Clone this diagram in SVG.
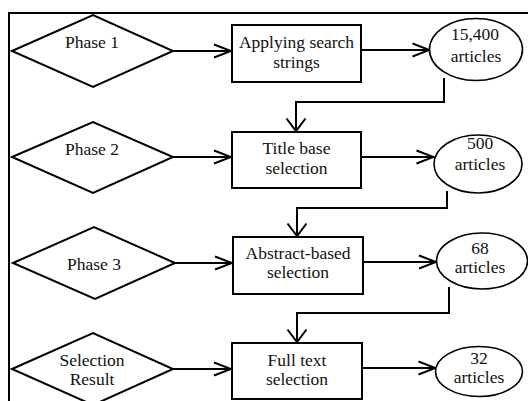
<svg xmlns="http://www.w3.org/2000/svg" width="528" height="401" viewBox="0 0 528 401">
  <style>
    .shape { fill: #fff; stroke: #000; stroke-width: 2; }
    .oval { fill: #fff; stroke: #000; stroke-width: 1.6; }
    .wire { fill: none; stroke: #000; stroke-width: 2; }
    .lbl { font-family: "Liberation Serif", "Times New Roman", "DejaVu Serif", serif; font-size: 17.5px; fill: #111; text-anchor: middle; }
  </style>
  <defs>
    <marker id="headH" markerUnits="userSpaceOnUse" viewBox="-18 -8 20 16" refX="0" refY="0" markerWidth="20" markerHeight="16" orient="auto">
      <path d="M-17,-6.5 L0,0 L-17,6.5" fill="none" stroke="#000" stroke-width="2"/>
    </marker>
    <marker id="headV" markerUnits="userSpaceOnUse" viewBox="-14 -11 16 22" refX="0" refY="0" markerWidth="16" markerHeight="22" orient="auto">
      <path d="M-12.5,-9.5 L0,0 L-12.5,9.5" fill="none" stroke="#000" stroke-width="2"/>
    </marker>
  </defs>

  <rect width="528" height="401" fill="#fff"/>

  <!-- outer frame: top and left edges only -->
  <path class="wire" d="M9,401 V13 H528"/>

  <g id="connectors">
    <path class="wire" d="M173,51 H231" marker-end="url(#headH)"/>
    <path class="wire" d="M173,157 H231" marker-end="url(#headH)"/>
    <path class="wire" d="M175,263 H232" marker-end="url(#headH)"/>
    <path class="wire" d="M173,369 H231" marker-end="url(#headH)"/>

    <path class="wire" d="M361,50 H429.5" marker-end="url(#headH)"/>
    <path class="wire" d="M361,157 H433.5" marker-end="url(#headH)"/>
    <path class="wire" d="M363,262 H436" marker-end="url(#headH)"/>
    <path class="wire" d="M362,368 H435.5" marker-end="url(#headH)"/>

    <path class="wire" d="M444,78 V102 H296 V131" marker-end="url(#headV)"/>
    <path class="wire" d="M447,191 V208 H297 V236" marker-end="url(#headV)"/>
    <path class="wire" d="M449,287 V313 H297 V342" marker-end="url(#headV)"/>
  </g>

  <g id="phase1">
    <polygon class="shape" points="12,51 93,15 173,51 93,87"/>
    <text class="lbl" x="92" y="48">Phase 1</text>
  </g>
  <g id="phase2">
    <polygon class="shape" points="12,157 93,122 173,157 93,193"/>
    <text class="lbl" x="92" y="155">Phase 2</text>
  </g>
  <g id="phase3">
    <polygon class="shape" points="13,263 94,227 175,263 95,299"/>
    <text class="lbl" x="94" y="270">Phase 3</text>
  </g>
  <g id="result">
    <polygon class="shape" points="12,369 93,333 173,369 93,405"/>
    <text class="lbl" x="92" y="366">Selection</text>
    <text class="lbl" x="92" y="385">Result</text>
  </g>

  <g id="search">
    <rect class="shape" x="232" y="25" width="129" height="57"/>
    <text class="lbl" x="296.5" y="47.5">Applying search</text>
    <text class="lbl" x="296.5" y="67.5">strings</text>
  </g>
  <g id="title">
    <rect class="shape" x="232" y="132" width="129" height="56"/>
    <text class="lbl" x="296.5" y="153.5">Title base</text>
    <text class="lbl" x="296.5" y="173.5">selection</text>
  </g>
  <g id="abstract">
    <rect class="shape" x="233" y="237" width="130" height="57"/>
    <text class="lbl" x="298" y="259">Abstract-based</text>
    <text class="lbl" x="298" y="278">selection</text>
  </g>
  <g id="fulltext">
    <rect class="shape" x="232" y="343" width="130" height="56"/>
    <text class="lbl" x="297" y="365.5">Full text</text>
    <text class="lbl" x="297" y="384.5">selection</text>
  </g>

  <g id="count1">
    <ellipse class="oval" cx="476" cy="49.5" rx="46.5" ry="31"/>
    <text class="lbl" x="475" y="40">15,400</text>
    <text class="lbl" x="476" y="62">articles</text>
  </g>
  <g id="count2">
    <ellipse class="oval" cx="478" cy="164" rx="44" ry="29"/>
    <text class="lbl" x="480" y="149">500</text>
    <text class="lbl" x="480" y="169.5">articles</text>
  </g>
  <g id="count3">
    <ellipse class="oval" cx="482" cy="261" rx="45.5" ry="28"/>
    <text class="lbl" x="480" y="254">68</text>
    <text class="lbl" x="480" y="273">articles</text>
  </g>
  <g id="count4">
    <ellipse class="oval" cx="479" cy="371.5" rx="43.5" ry="25"/>
    <text class="lbl" x="479" y="363.5">32</text>
    <text class="lbl" x="479" y="382.5">articles</text>
  </g>
</svg>
